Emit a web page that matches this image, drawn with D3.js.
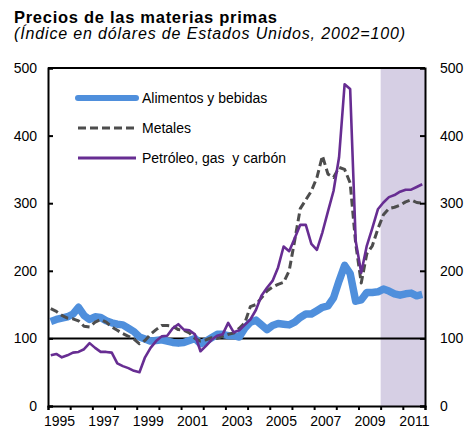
<!DOCTYPE html>
<html>
<head>
<meta charset="utf-8">
<script src="https://cdn.jsdelivr.net/npm/d3@7"></script>
<style>
  body { margin: 0; background: #fff; }
  text { font-family: Arial, "Liberation Sans", sans-serif; }
</style>
</head>
<body>
<svg id="chart"></svg>
<script>
// quarterly data, 1995Q1 - 2011Q4 (index, 2002 = 100)
const years = d3.range(1995, 2012);
const quarters = years.flatMap(y => [0, 1, 2, 3].map(q => y + (q + 0.5) / 4));

const alimentos = [
  125, 128, 130, 132,  136, 146, 134, 128,  132, 131, 126, 123,  121, 120, 115, 110,
  102, 99, 96, 97,  98, 96, 94, 93,  94, 97, 100, 92,  96, 101, 106, 106,
  104, 104, 102, 115,  124, 127, 120, 113,  119, 122, 121, 120,  124, 131, 136, 136,
  141, 146, 148, 160,  185, 208, 196, 155,  157, 168, 168, 169,  173, 170, 166, 164,
  166, 167, 163, 165
];
const metales = [
  144, 140, 134, 130,  129, 126, 118, 117,  124, 128, 124, 117,  112, 107, 103, 99,
  92, 97, 106, 113,  119, 119, 118, 113,  112, 108, 100, 96,  98, 101, 100, 103,
  106, 108, 115, 123,  147, 150, 160, 170,  176, 180, 183, 200,  245, 292, 305, 318,
  338, 370, 343, 338,  353, 350, 330, 240,  182, 225, 237, 262,  283, 292, 294, 297,
  302, 305, 301, 300
];
const petroleo = [
  75, 77, 72, 75,  79, 80, 84, 93,  86, 80, 80, 79,  63, 59, 56, 52,
  50, 72, 86, 96,  103, 104, 115, 121,  113, 112, 106, 81,  89, 98, 104, 106,
  123, 109, 112, 120,  128, 142, 163, 175,  185, 205, 236, 229,  248, 268, 268, 240,
  231, 257, 288, 318,  368, 476, 469, 244,  197, 237, 263, 291,  301, 309, 312, 317,
  320, 320, 324, 328
];

const seriesNames = ["Alimentos y bebidas", "Metales", "Petróleo, gas  y carbón"];
const yTicks = [0, 100, 200, 300, 400, 500];
const xLabelYears = [1995, 1997, 1999, 2001, 2003, 2005, 2007, 2009, 2011];
const shadeStart = 2010, shadeEnd = 2012;

const width = 467, height = 429;
const plotLeft = 48, plotRight = 425, plotTop = 68, plotBottom = 406;

const svg = d3.select("#chart").attr("width", width).attr("height", height);

const x = d3.scaleLinear().domain([1995, 2012]).range([plotLeft, plotRight]);
const y = d3.scaleLinear().domain([0, 500]).range([plotBottom, plotTop]);

// title
svg.append("text")
  .attr("x", 14).attr("y", 23)
  .attr("font-size", 16.5).attr("font-weight", "bold")
  .attr("textLength", 263).attr("lengthAdjust", "spacing")
  .text("Precios de las materias primas");
svg.append("text")
  .attr("x", 14).attr("y", 39)
  .attr("font-size", 16).attr("font-style", "italic")
  .attr("textLength", 391).attr("lengthAdjust", "spacing")
  .text("(Índice en dólares de Estados Unidos, 2002=100)");

// projection shade
svg.append("rect")
  .attr("x", x(shadeStart)).attr("y", plotTop)
  .attr("width", x(shadeEnd) - x(shadeStart)).attr("height", plotBottom - plotTop)
  .attr("fill", "#d6cfe4");

// line at 100
svg.append("line")
  .attr("x1", plotLeft).attr("x2", plotRight)
  .attr("y1", y(100)).attr("y2", y(100))
  .attr("stroke", "#000").attr("stroke-width", 2);

// top border
svg.append("line")
  .attr("x1", plotLeft).attr("x2", plotRight)
  .attr("y1", plotTop).attr("y2", plotTop)
  .attr("stroke", "#000").attr("stroke-width", 2);

const line = d3.line().x((d, i) => x(quarters[i])).y(d => y(d));

const styles = [
  { data: alimentos, color: "#4f8fdc", width: 7.5, dash: null },
  { data: metales, color: "#4d4d4d", width: 3, dash: "8,4" },
  { data: petroleo, color: "#672d92", width: 2.6, dash: null }
];

styles.forEach(s => {
  svg.append("path")
    .datum(s.data)
    .attr("d", line)
    .attr("fill", "none")
    .attr("stroke", s.color)
    .attr("stroke-width", s.width)
    .attr("stroke-linejoin", "round")
    .attr("stroke-dasharray", s.dash);
});

// axes
const leftAxis = svg.append("g")
  .attr("transform", `translate(${plotLeft},0)`)
  .call(d3.axisLeft(y).tickValues(yTicks).tickSize(-5).tickPadding(11));
const rightAxis = svg.append("g")
  .attr("transform", `translate(${plotRight},0)`)
  .call(d3.axisRight(y).tickValues(yTicks).tickSize(-5).tickPadding(15));
const bottomAxis = svg.append("g")
  .attr("transform", `translate(0,${plotBottom})`)
  .call(d3.axisBottom(x).tickValues(d3.range(1995, 2013)).tickSize(4).tickFormat(""));
const labelAxis = svg.append("g")
  .attr("transform", `translate(0,${plotBottom})`)
  .call(d3.axisBottom(x).tickValues(xLabelYears.map(d => d + 0.5)).tickSize(0).tickPadding(10)
    .tickFormat(d => Math.floor(d)));
labelAxis.select(".domain").remove();

[leftAxis, rightAxis, bottomAxis, labelAxis].forEach(g => {
  g.selectAll(".domain").attr("stroke", "#000").attr("stroke-width", 2);
  g.selectAll(".tick line").attr("stroke", "#000").attr("stroke-width", 2);
  g.selectAll("text").attr("font-size", 14).attr("fill", "#000")
    .attr("font-family", "Arial, 'Liberation Sans', sans-serif");
});

// legend
const legend = svg.append("g");
styles.forEach((s, i) => {
  const ly = 98 + i * 30;
  legend.append("line")
    .attr("x1", 78).attr("x2", 136).attr("y1", ly).attr("y2", ly)
    .attr("stroke", s.color).attr("stroke-width", i === 0 ? 6 : 3)
    .attr("stroke-linecap", i === 0 ? "round" : "butt")
    .attr("stroke-dasharray", s.dash);
  legend.append("text")
    .attr("x", 142).attr("y", ly + 5)
    .attr("font-size", 14)
    .style("white-space", "pre")
    .text(seriesNames[i]);
});
</script>
</body>
</html>
